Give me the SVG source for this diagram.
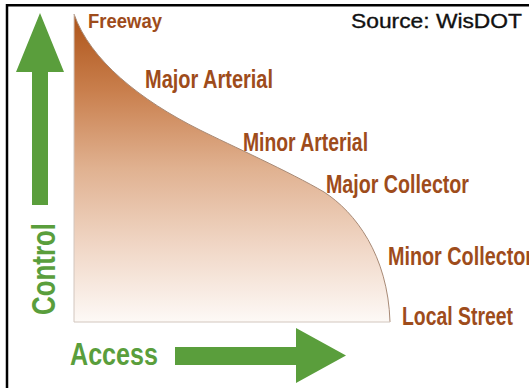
<svg xmlns="http://www.w3.org/2000/svg" width="529" height="388" viewBox="0 0 529 388">
  <defs>
    <linearGradient id="fade" x1="0" y1="14" x2="0" y2="322" gradientUnits="userSpaceOnUse">
      <stop offset="0" stop-color="#ad5318"/>
      <stop offset="0.25" stop-color="#c97f4d"/>
      <stop offset="0.5" stop-color="#e0b190"/>
      <stop offset="0.75" stop-color="#f0d6c5"/>
      <stop offset="1" stop-color="#fdf9f6"/>
    </linearGradient>
    <style>
      .cls { font-family: "Liberation Sans", Arial, sans-serif; font-weight: bold; fill: #9e4c1b; }
      .axis { font-family: "Liberation Sans", Arial, sans-serif; font-weight: bold; fill: #5a9e3c; }
      .arrow { fill: #5a9e3c; }
      .src { font-family: "Liberation Sans", Arial, sans-serif; fill: #111; stroke: #111; stroke-width: 0.35; }
    </style>
  </defs>
  <rect x="0" y="0" width="529" height="388" fill="#ffffff"/>
  <path d="M7,388 V5.2 H529" fill="none" stroke="#000" stroke-width="2.5"/>

  <g id="area">
    <path d="M74,14 C90,60 140,100 200,130 C230,145 290,172 324,192 C355,212 388,255 390,322 L74,322 Z" fill="url(#fade)" stroke="none"/>
    <path d="M74,14 C90,60 140,100 200,130 C230,145 290,172 324,192 C355,212 388,255 390,322" fill="none" stroke="#a88a76" stroke-width="1"/>
    <path d="M74,14 V322 H390" fill="none" stroke="#d2c6be" stroke-width="1"/>
  </g>

  <g id="labels">
    <text class="cls" x="88" y="28" font-size="20" textLength="74" lengthAdjust="spacingAndGlyphs">Freeway</text>
    <text class="cls" x="145" y="88" font-size="26" textLength="128" lengthAdjust="spacingAndGlyphs">Major Arterial</text>
    <text class="cls" x="243" y="151" font-size="26" textLength="125" lengthAdjust="spacingAndGlyphs">Minor Arterial</text>
    <text class="cls" x="326" y="193" font-size="26" textLength="143" lengthAdjust="spacingAndGlyphs">Major Collector</text>
    <text class="cls" x="388" y="265" font-size="26" textLength="145" lengthAdjust="spacingAndGlyphs">Minor Collector</text>
    <text class="cls" x="402" y="325" font-size="26" textLength="111" lengthAdjust="spacingAndGlyphs">Local Street</text>
  </g>

  <g id="control-axis">
    <path class="arrow" d="M40,13 L64,72 L48,72 L48,205 L32,205 L32,72 L16,72 Z"/>
    <text class="axis" transform="translate(55,315) rotate(-90)" x="0" y="0" font-size="33" textLength="92" lengthAdjust="spacingAndGlyphs">Control</text>
  </g>

  <g id="access-axis">
    <text class="axis" x="70" y="365" font-size="32" textLength="88" lengthAdjust="spacingAndGlyphs">Access</text>
    <path class="arrow" d="M175,347 L296,347 L296,328 L346,355.5 L296,383 L296,365 L175,365 Z"/>
  </g>

  <g id="source">
    <text class="src" x="351" y="28" font-size="21" textLength="171" lengthAdjust="spacingAndGlyphs">Source: WisDOT</text>
  </g>
</svg>
